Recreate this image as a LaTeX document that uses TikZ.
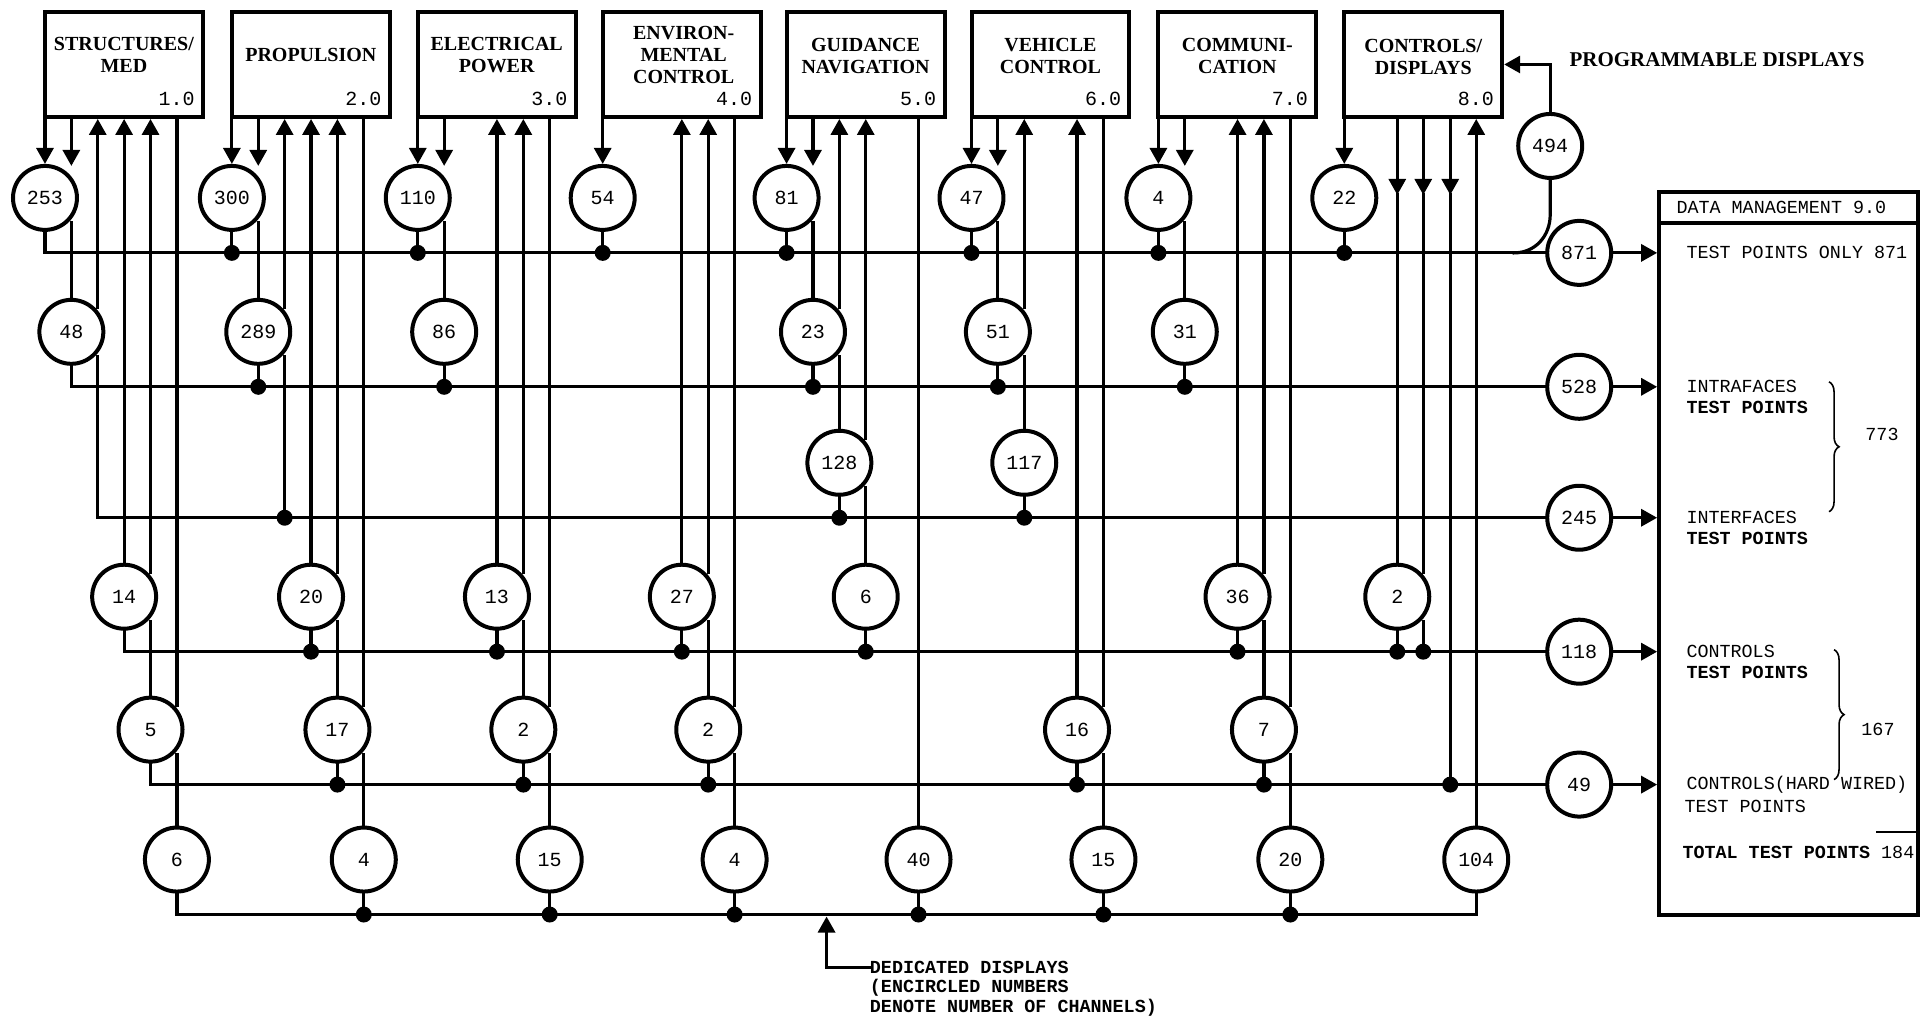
\documentclass[tikz,border=0pt]{standalone}
\usepackage{fontspec}
\setmainfont{Liberation Serif}
\setmonofont{Liberation Mono}
\usetikzlibrary{arrows.meta,decorations.pathreplacing}

\begin{document}
\begin{tikzpicture}[x=0.5pt,y=-0.5pt]
\tikzstyle{ln}=[line width=1.6pt, line cap=rect]
\tikzstyle{tip0}=[]
\tikzstyle{tip1}=[-{Triangle[length=8pt,width=8.5pt]}]
\tikzstyle{tip2}=[{Triangle[length=8pt,width=8.5pt]}-]
\tikzstyle{sys}=[draw, line width=2pt, minimum width=79pt, minimum height=52.5pt, inner sep=0pt]
\tikzstyle{syslab}=[font=\fontsize{10}{11.2}\selectfont\bfseries, align=center, inner sep=0pt]
\tikzstyle{sysno}=[font=\fontsize{10}{12}\selectfont\ttfamily, anchor=south east, inner sep=0pt]
\tikzstyle{num}=[circle, draw, line width=2pt, fill=white, minimum size=32pt, inner sep=0pt, font=\fontsize{10}{12}\selectfont\ttfamily]
\tikzstyle{tt}=[font=\fontsize{9.2}{11}\selectfont\ttfamily, anchor=west, inner sep=0pt]
\tikzstyle{ttb}=[tt, font=\fontsize{9.2}{11}\selectfont\ttfamily\bfseries]
\tikzstyle{brc}=[decorate, decoration={brace, amplitude=5pt}, line width=0.8pt]
\fill[white] (0,0) rectangle (1922,1019);

% subsystems
\node[sys] (b1) at (124,64.5) {};
\node[sys] (b2) at (311,64.5) {};
\node[sys] (b3) at (497,64.5) {};
\node[sys] (b4) at (682,64.5) {};
\node[sys] (b5) at (866,64.5) {};
\node[sys] (b6) at (1051,64.5) {};
\node[sys] (b7) at (1238,64.5) {};
\node[sys] (b8) at (1424,64.5) {};
\node[syslab] (l1) at (124,55) {STRUCTURES/\\MED};
\node[syslab] (l2) at (311,55) {PROPULSION};
\node[syslab] (l3) at (497,55) {ELECTRICAL\\POWER};
\node[syslab] (l4) at (684,55) {ENVIRON-\\MENTAL\\CONTROL};
\node[syslab] (l5) at (866,56) {GUIDANCE\\NAVIGATION};
\node[syslab] (l6) at (1051,56) {VEHICLE\\CONTROL};
\node[syslab] (l7) at (1238,56) {COMMUNI-\\CATION};
\node[syslab] (l8) at (1424,57) {CONTROLS/\\DISPLAYS};
\foreach \i in {1,...,8}
  \node[sysno] (n\i) at ([shift={(-10,-13)}]b\i.south east) {\i.0};

% data management
\node[draw, line width=2pt, minimum width=129.5pt, minimum height=361.5pt, inner sep=0pt] (dm) at (1789.5,553.5) {};
\draw[line width=2pt] ([yshift=-16.5pt]dm.north west) -- ([yshift=-16.5pt]dm.north east);

% channels: box/slot/number/arrow/gap/dot
\foreach \b/\k/\lab/\dir/\gap/\dot in {
  1/1/253/1/0/0, 1/2/48/1/1/0, 1/3/0/2/1/0, 1/4/14/2/0/0, 1/5/5/2/1/0, 1/6/6/0/1/0,
  2/1/300/1/0/1, 2/2/289/1/1/1, 2/3/0/2/1/1, 2/4/20/2/0/1, 2/5/17/2/1/1, 2/6/4/0/1/1,
  3/1/110/1/0/1, 3/2/86/1/1/1, 3/4/13/2/0/1, 3/5/2/2/1/1, 3/6/15/0/1/1,
  4/1/54/1/0/1, 4/4/27/2/0/1, 4/5/2/2/1/1, 4/6/4/0/1/1,
  5/1/81/1/0/1, 5/2/23/1/1/1, 5/3/128/2/1/1, 5/4/6/2/1/1, 5/6/40/0/0/1,
  6/1/47/1/0/1, 6/2/51/1/1/1, 6/3/117/2/1/1, 6/5/16/2/0/1, 6/6/15/0/1/1,
  7/1/4/1/0/1, 7/2/31/1/1/1, 7/4/36/2/0/1, 7/5/7/2/1/1, 7/6/20/0/1/1,
  8/1/22/1/0/1, 8/6/104/2/0/0}{
  \pgfmathsetmacro\xx{{45,232,418,603,787,972,1159,1345}[\b-1]+26.4*(\k-1)}
  \pgfmathsetmacro\yb{{253,387,518,652,785,915}[\k-1]}
  \pgfmathsetmacro\yn{{0,253,387,518,652,785}[\k-1]-55}
  \pgfmathsetmacro\gs{\yn-(\dir==1 ? 32 : 24)}
  \coordinate (d\b\k) at (\xx,\yb);
  \ifnum\lab>0
    \node[num] (c\b\k) at (\xx,\yb-55) {\lab};
    \draw[ln] (c\b\k.south) -- (d\b\k);
    \coordinate (e\b\k) at (c\b\k.north);
  \else
    \coordinate (e\b\k) at (d\b\k);
  \fi
  \ifnum\gap=1
    \draw[ln,tip\dir] (b\b.south -| d\b\k) -- (\xx,\gs);
    \draw[ln] (\xx,\yn+25) -- (e\b\k);
  \else
    \draw[ln,tip\dir] (b\b.south -| d\b\k) -- (e\b\k);
  \fi
  \ifnum\dot=1 \fill (d\b\k) circle (4pt); \fi
}

% controls/displays to rows 4 and 5
\node[num] (c84) at (1398,597) {2};
\coordinate (m83) at (1398,195);
\coordinate (m84) at (1424,195);
\coordinate (m85) at (1451,195);
\coordinate (d83) at (1398,652);
\coordinate (d84) at (1424,652);
\coordinate (d85) at (1451,785);
\draw[ln,tip1] (b8.south -| m83) -- (m83);
\draw[ln] (m83) -- (c84.north);
\draw[ln] (c84.south) -- (d83);
\draw[ln,tip1] (b8.south -| m84) -- (m84);
\draw[ln] (m84) -- (1424,573);
\draw[ln] (1424,622) -- (d84);
\draw[ln,tip1] (b8.south -| m85) -- (m85);
\draw[ln] (m85) -- (d85);
\fill (d83) circle (4pt) (d84) circle (4pt) (d85) circle (4pt);

% buses and totals
\foreach \k/\yy/\lab in {1/253/871, 2/387/528, 3/518/245, 4/652/118, 5/785/49}{
  \node[num] (t\k) at (1580,\yy) {\lab};
  \draw[ln] (d1\k) -- (t\k);
  \draw[ln,tip1] (t\k) -- (t\k -| dm.west);
}
\draw[ln] (d16) -- (d86);

% programmable displays
\node[num] (c494) at (1551,146) {494};
\draw[ln,tip1] (c494.north) |- (b8.east);
\draw[ln] (c494.south) -- (1551,215) .. controls (1551,236) and (1536,253) .. (1515,253);
\node[syslab, anchor=west, font=\fontsize{10.5}{12}\selectfont\bfseries] (pd) at (1570,60) {PROGRAMMABLE DISPLAYS};

% data management texts
\node[tt] (dmh) at (1677,208) {DATA MANAGEMENT 9.0};
\node[tt] (p1) at (1687,253) {TEST POINTS ONLY 871};
\node[tt] (p2) at (1687,387) {INTRAFACES};
\node[ttb] (p2b) at (1687,408) {TEST POINTS};
\node[tt] (p3) at (1687,518) {INTERFACES};
\node[ttb] (p3b) at (1687,539) {TEST POINTS};
\node[tt] (p4) at (1687,652) {CONTROLS};
\node[ttb] (p4b) at (1687,673) {TEST POINTS};
\node[tt] (p5) at (1687,785) {CONTROLS(HARD WIRED)};
\node[tt] (p5b) at (1685,807) {TEST POINTS};
\node[tt] (p6) at (1683,853) {\textbf{TOTAL TEST POINTS} 184};
\draw[brc] (1830,382) -- (1830,512);
\node[tt] (s1) at (1866,435) {773};
\draw[brc] (1835,650) -- (1835,780);
\node[tt] (s2) at (1862,730) {167};
\draw[line width=1pt] (1877,832) -- (1917,832);

% dedicated displays note
\node[ttb] (dd1) at (870,968) {DEDICATED DISPLAYS};
\node[ttb] (dd2) at (870,988) {(ENCIRCLED NUMBERS};
\node[ttb] (dd3) at (870,1008) {DENOTE NUMBER OF CHANNELS)};
\coordinate (ddtip) at (827,917);
\draw[ln,tip1] (dd1.west) -| (ddtip);
\end{tikzpicture}
\end{document}
